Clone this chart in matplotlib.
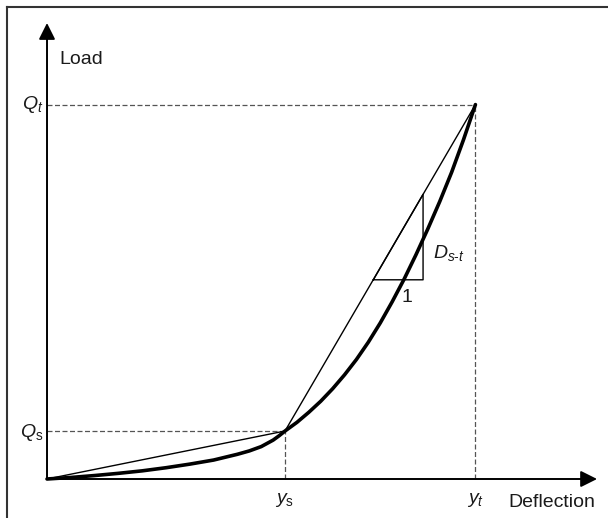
import numpy as np
import matplotlib
matplotlib.use("Agg")
import matplotlib.pyplot as plt
from matplotlib.lines import Line2D

plt.rcParams['font.family'] = ['Liberation Sans', 'DejaVu Sans']
plt.rcParams['mathtext.fontset'] = 'custom'
plt.rcParams['mathtext.rm'] = 'Liberation Sans'
plt.rcParams['mathtext.it'] = 'Liberation Sans:italic'
plt.rcParams['mathtext.bf'] = 'Liberation Sans:bold'

# key points of the load-deflection curve
y_s, y_t = 1.0, 1.8
Q_s, Q_t = 1.0, 7.8

# measured curve (deflection, load)
curve_x = [0.0, 0.1, 0.2, 0.3, 0.4, 0.5, 0.6, 0.7, 0.75, 0.8, 0.85, 0.9, 0.95,
           0.975, 1.0, 1.05, 1.1, 1.15, 1.2, 1.25, 1.3, 1.35, 1.4, 1.45, 1.5,
           1.55, 1.6, 1.65, 1.7, 1.75, 1.8]
curve_y = [0.0, 0.032, 0.072, 0.118, 0.170, 0.235, 0.31, 0.395, 0.455, 0.515,
           0.585, 0.675, 0.81, 0.90, 1.0, 1.18, 1.39, 1.62, 1.88, 2.17, 2.49,
           2.85, 3.25, 3.69, 4.16, 4.67, 5.21, 5.78, 6.39, 7.07, 7.8]

# slope triangle on the s-t secant
tri_x = [1.371, 1.58, 1.58]
tri_y = [4.15, 4.15, 5.93]

fig = plt.figure(figsize=(6.08, 5.18), dpi=100)
ax = fig.add_axes([0, 0, 1, 1])
ax.set_xlim(-0.1975, 2.357)
ax.set_ylim(-0.8125, 9.979)
ax.axis('off')

# frame
fig.add_artist(Line2D([0.0115, 0.0115], [0, 0.9865], color='#333333', lw=1.5))
fig.add_artist(Line2D([0.0115, 1.0], [0.9865, 0.9865], color='#333333', lw=1.5))

# axes with arrows
arrow = dict(arrowstyle='-|>,head_length=0.9,head_width=0.45', color='black',
             lw=1.4, shrinkA=0, shrinkB=0, mutation_scale=11)
ax.annotate('', xy=(0, 9.5), xytext=(0, 0), arrowprops=arrow)
ax.annotate('', xy=(2.311, 0), xytext=(0, 0), arrowprops=arrow)

# dashed guides
dash = dict(color='#555555', lw=0.9, ls=(0, (4, 2)))
ax.plot([0, y_s], [Q_s, Q_s], **dash)
ax.plot([y_s, y_s], [0, Q_s], **dash)
ax.plot([0, y_t], [Q_t, Q_t], **dash)
ax.plot([y_t, y_t], [0, Q_t], **dash)

# secants
ax.plot([0, y_s, y_t], [0, Q_s, Q_t], color='black', lw=1.0)
ax.plot(tri_x + [tri_x[0]], tri_y + [tri_y[0]], color='black', lw=1.0)

# curve
ax.plot(curve_x, curve_y, color='black', lw=2.6, solid_joinstyle='round',
        solid_capstyle='round')

txt = dict(fontsize=14, color='#1a1a1a')
ax.text(0.05, 8.646, 'Load', ha='left', va='baseline', **txt)
ax.text(1.94, -0.583, 'Deflection', ha='left', va='baseline', **txt)
ax.text(-0.017, 7.71, r'$Q_t$', ha='right', va='baseline', **txt)
ax.text(-0.017, 0.875, r'$Q_\mathrm{s}$', ha='right', va='baseline', **txt)
ax.text(y_s, -0.5, r'$y_\mathrm{s}$', ha='center', va='baseline', **txt)
ax.text(y_t, -0.5, r'$y_t$', ha='center', va='baseline', **txt)
ax.text(1.513, 3.69, '1', ha='center', va='baseline', **txt)
ax.text(1.622, 4.6, r'$D_{s\text{-}t}$', ha='left', va='baseline', **txt)

fig.savefig('out.png', dpi=100)
